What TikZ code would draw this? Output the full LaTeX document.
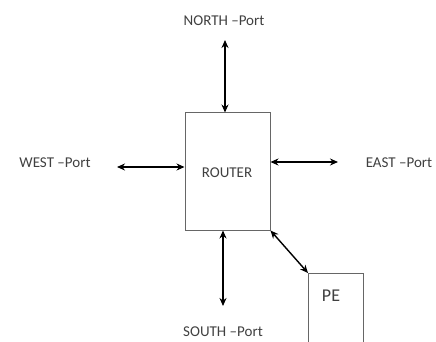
\documentclass[tikz,border=0pt]{standalone}
\usepackage{fontspec}
\setmainfont{Carlito}
\usetikzlibrary{arrows.meta}
\begin{document}
\begin{tikzpicture}[x=1pt,y=-1pt,
  lbl/.style={font=\fontsize{15}{17}\selectfont, text=black!75, inner sep=0pt},
  box/.style={draw=black!60, line width=1pt, inner sep=0pt},
  link/.style={line width=1.8pt, {Stealth[length=8pt,width=7pt]}-{Stealth[length=8pt,width=7pt]}}]
\useasboundingbox (0,0) rectangle (436,342);
\clip (0,0) rectangle (436,342);
\node[box, minimum width=85pt, minimum height=117pt] (router) at (227.5,171.5) {};
\node[lbl] (routertxt) at (227,173) {ROUTER};
\node[box, minimum width=55pt, minimum height=90pt, anchor=north west] (pe) at (308,273) {};
\node[lbl] (petxt) at (331,296) {\fontsize{18}{20}\selectfont PE};
\node[lbl] (north) at (224,21) {NORTH –Port};
\node[lbl] (south) at (223,332) {SOUTH –Port};
\node[lbl] (west) at (55,163) {WEST –Port};
\node[lbl] (east) at (399,163) {EAST –Port};
\coordinate (nt) at (225,40);
\coordinate (sb) at (223,306);
\coordinate (wl) at (117,167);
\coordinate (er) at (338,162);
\draw[link] (nt) -- (nt |- router.north);
\draw[link] (sb |- router.south) -- (sb);
\draw[link] (wl) -- (wl -| router.west);
\draw[link] (er -| router.east) -- (er);
\draw[link, line width=1.4pt] (router.south east) -- (pe.north west);
\end{tikzpicture}
\end{document}
